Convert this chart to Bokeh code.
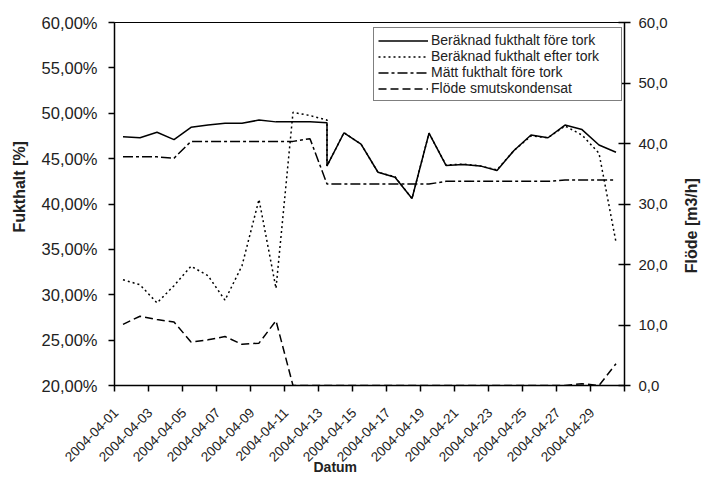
import math
from bokeh.plotting import figure
from bokeh.layouts import row
from bokeh.models import Range1d, LinearAxis, FixedTicker, Legend, LegendItem, ColumnDataSource, Title
from bokeh.core.properties import value
from bokeh.embed import file_html
from bokeh.resources import INLINE

# ---- data ----
dates = ["2004-04-01", "2004-04-02", "2004-04-03", "2004-04-04", "2004-04-05",
         "2004-04-06", "2004-04-07", "2004-04-08", "2004-04-09", "2004-04-10",
         "2004-04-11", "2004-04-12", "2004-04-13", "2004-04-13", "2004-04-14",
         "2004-04-15", "2004-04-16", "2004-04-17", "2004-04-18", "2004-04-19",
         "2004-04-20", "2004-04-21", "2004-04-22", "2004-04-23", "2004-04-24",
         "2004-04-25", "2004-04-26", "2004-04-27", "2004-04-28", "2004-04-29",
         "2004-04-30"]

fukt_fore = [47.4, 47.3, 47.9, 47.1, 48.45, 48.7, 48.9, 48.9, 49.25, 49.05,
             49.05, 49.05, 48.95, 44.2, 47.85, 46.6, 43.5, 42.95, 40.6, 47.8,
             44.25, 44.35, 44.2, 43.7, 45.9, 47.6, 47.3, 48.7, 48.2, 46.5, 45.7]

fukt_efter = [31.65, 31.1, 29.1, 31.0, 33.15, 32.1, 29.4, 33.2, 40.5, 30.7,
              50.1, 49.75, 49.25, 44.2, 47.85, 46.6, 43.5, 43.0, 40.6, 47.8,
              44.3, 44.4, 44.2, 43.75, 45.9, 47.5, 47.3, 48.6, 47.6, 45.6, 35.8]

matt_fore = [45.2, 45.2, 45.2, 45.05, 46.9, 46.9, 46.9, 46.9, 46.9, 46.9,
             46.9, 47.2, 42.2, 42.2, 42.2, 42.2, 42.2, 42.2, 42.2, 42.2,
             42.5, 42.5, 42.5, 42.5, 42.5, 42.5, 42.5, 42.65, 42.65, 42.65, 42.65]

flode = [10.1, 11.45, 10.9, 10.5, 7.2, 7.55, 8.1, 6.8, 7.0, 10.7,
         0.0, 0.0, 0.0, 0.0, 0.0, 0.0, 0.0, 0.0, 0.0, 0.0,
         0.0, 0.0, 0.0, 0.0, 0.0, 0.0, 0.0, 0.0, 0.3, 0.0, 3.6]

x_tick_days = [1, 3, 5, 7, 9, 11, 13, 15, 17, 19, 21, 23, 25, 27, 29]
x_tick_labels = ["2004-04-01", "2004-04-03", "2004-04-05", "2004-04-07", "2004-04-09",
                 "2004-04-11", "2004-04-13", "2004-04-15", "2004-04-17", "2004-04-19",
                 "2004-04-21", "2004-04-23", "2004-04-25", "2004-04-27", "2004-04-29"]
left_ticks = [20, 25, 30, 35, 40, 45, 50, 55, 60]
left_labels = ["20,00%", "25,00%", "30,00%", "35,00%", "40,00%", "45,00%",
               "50,00%", "55,00%", "60,00%"]
right_ticks = [0, 10, 20, 30, 40, 50, 60]
right_labels = ["0,0", "10,0", "20,0", "30,0", "40,0", "50,0", "60,0"]

series_names = ["Beräknad fukthalt före tork", "Beräknad fukthalt efter tork",
                "Mätt fukthalt före tork", "Flöde smutskondensat"]
x_title = "Datum"
left_title = "Fukthalt [%]"
right_title = "Flöde [m3/h]"

day = [int(d[-2:]) for d in dates]
src = ColumnDataSource(dict(day=day, fore=fukt_fore, efter=fukt_efter,
                            matt=matt_fore, flode=flode))

FONT = "Liberation Sans"
TXT = "#222222"
LABEL_SHIFT = -0.4  # label anchor offset (days) relative to category centre

H = 486
LW, RW = 30, 22          # side strips holding the vertical axis titles
MW = 702 - LW - RW       # main figure width
FL, FR, FT, FB = 114 - LW, 624 - LW, 22, 385  # frame edges inside main figure

p = figure(width=MW, height=H, x_range=Range1d(0.5, 30.5), y_range=Range1d(20, 60),
           output_backend="svg", toolbar_location=None,
           min_border_left=FL, min_border_right=MW - FR, min_border_top=FT,
           min_border_bottom=H - FB)
p.extra_y_ranges = {"flow": Range1d(0, 60)}
p.grid.visible = False
p.outline_line_color = "black"
p.outline_line_width = 1
p.background_fill_color = "white"
p.border_fill_color = "white"

# x axis
xa = p.xaxis[0]
label_pos = [d + LABEL_SHIFT for d in x_tick_days]
xa.ticker = FixedTicker(ticks=label_pos,
                        minor_ticks=[0.5 + 2 * i for i in range(16)])
xa.major_label_overrides = {t: l for t, l in zip(label_pos, x_tick_labels)}
xa.major_label_orientation = math.pi / 4
xa.major_tick_out = 0
xa.major_tick_in = 0
xa.minor_tick_out = 6
xa.minor_tick_in = 0
xa.minor_tick_line_color = "black"
xa.minor_tick_line_width = 1.5
xa.major_label_text_font = FONT
xa.major_label_text_font_size = "13.5px"
xa.major_label_standoff = 19

# left axis
ya = p.yaxis[0]
ya.ticker = FixedTicker(ticks=left_ticks)
ya.major_label_overrides = {t: l for t, l in zip(left_ticks, left_labels)}

# right axis
ra = LinearAxis(y_range_name="flow")
ra.ticker = FixedTicker(ticks=right_ticks)
ra.major_label_overrides = {t: l for t, l in zip(right_ticks, right_labels)}
p.add_layout(ra, "right")

for ax in (ya, ra):
    ax.major_tick_out = 6
    ax.minor_tick_out = 0
    ax.minor_tick_in = 0
    ax.major_tick_line_color = "black"
    ax.major_tick_line_width = 1.5
    ax.major_label_text_font = FONT
ya.major_tick_in = 0
ya.major_label_text_font_size = "16.5px"
ya.major_label_standoff = 11
ra.major_tick_in = 6
ra.major_label_text_font_size = "15px"
ra.major_label_standoff = 8

for ax in (xa, ya, ra):
    ax.axis_line_color = "black"
    ax.axis_line_width = 1.5
    ax.major_label_text_color = TXT

# x title below, pulled up into the rotated-label area
p.add_layout(Title(text=x_title, align="left", offset=313 - 114, vertical_align="top",
                   standoff=-20, text_font=FONT, text_font_style="bold",
                   text_font_size="14px", text_color=TXT), "below")

r1 = p.line("day", "fore", source=src, line_color="black", line_width=1.5)
r2 = p.line("day", "efter", source=src, line_color="black", line_width=1.5, line_dash="2 3")
r3 = p.line("day", "matt", source=src, line_color="black", line_width=1.5, line_dash="10 3 3 3")
r4 = p.line("day", "flode", source=src, line_color="black", line_width=1.5, line_dash="8 4",
            y_range_name="flow")

legend = Legend(items=[LegendItem(label=n, renderers=[r]) for n, r in
                       zip(series_names, [r1, r2, r3, r4])],
                location=(373 - 114, FB - 101), margin=0, padding=4, spacing=0,
                glyph_width=50, glyph_height=15, label_height=15, label_width=186,
                label_standoff=3, label_text_font=FONT, label_text_font_size="14px",
                label_text_color=TXT,
                border_line_color="black", border_line_width=1,
                background_fill_color="white", background_fill_alpha=1)
p.add_layout(legend, "center")


def strip(width, text, cx, cy):
    s = figure(width=width, height=H, x_range=Range1d(0, width), y_range=Range1d(0, H),
               x_axis_type=None, y_axis_type=None, output_backend="svg",
               toolbar_location=None, min_border=0, outline_line_color=None)
    s.grid.visible = False
    s.background_fill_color = "white"
    s.border_fill_color = "white"
    s.text(x=[cx], y=[H - cy], text=[text], angle=math.pi / 2,
           text_font=value(FONT), text_font_style="bold", text_font_size="16px",
           text_color=TXT, text_align="center", text_baseline="middle")
    return s


left_strip = strip(LW, left_title, 18.5, 220)
right_strip = strip(RW, right_title, 691 - (702 - RW), 272)

layout = row(left_strip, p, right_strip, spacing=0)
open("out.html", "w").write(file_html(layout, INLINE))
